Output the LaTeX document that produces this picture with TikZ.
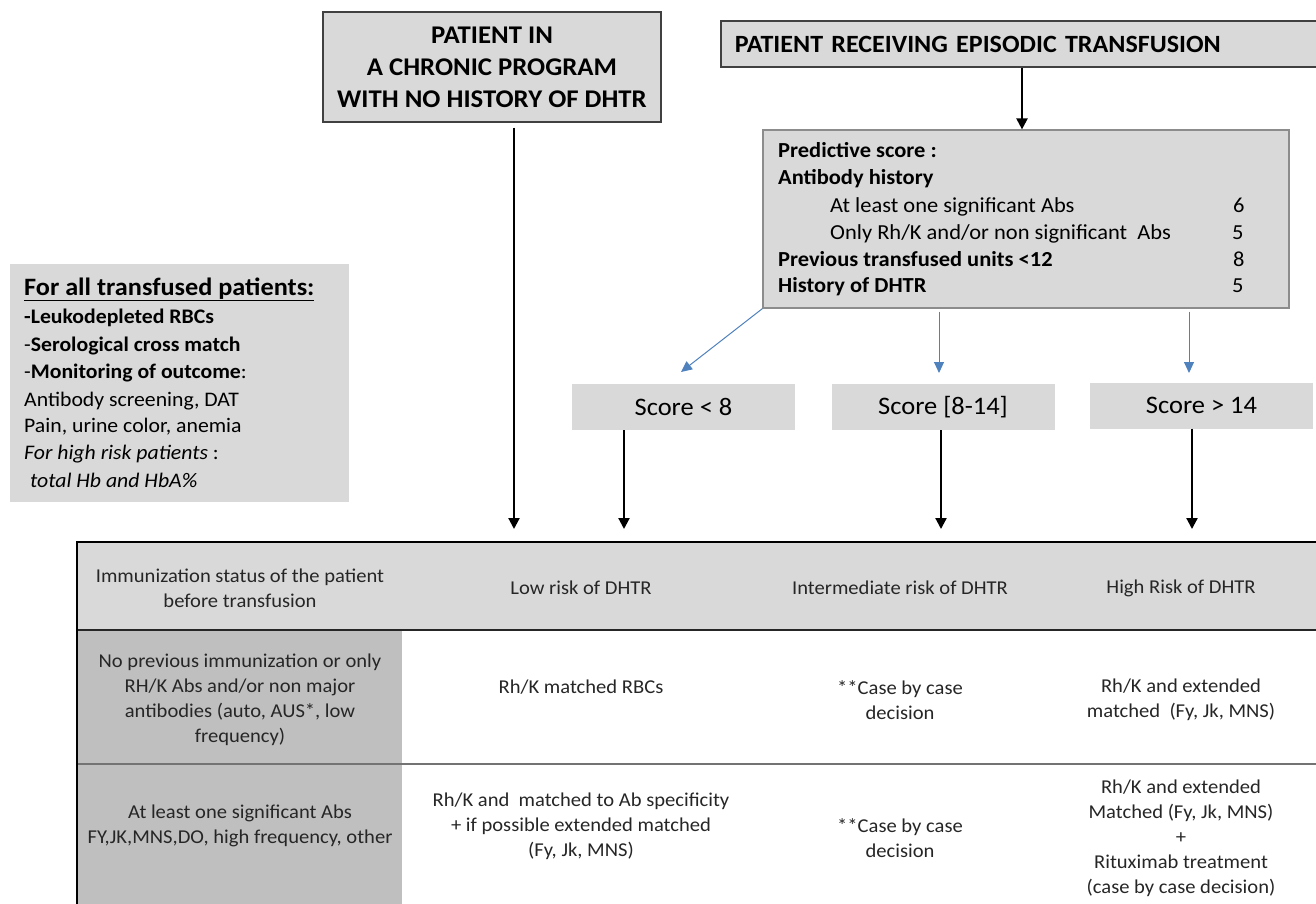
\documentclass[tikz,border=0pt]{standalone}
\usepackage{fontspec}
\setmainfont{Carlito}[FakeStretch=1.05]
\usetikzlibrary{positioning, calc, arrows.meta}
\definecolor{boxgray}{HTML}{D9D9D9}
\definecolor{colgray}{HTML}{BFBFBF}
\definecolor{arrblue}{HTML}{4F81BD}
\definecolor{txt}{HTML}{262626}
\newcommand{\fs}[2]{\fontsize{#1}{#2}\selectfont}
\tikzset{
  titlebox/.style={draw=black!75, line width=1.5pt, fill=boxgray, font=\fs{25.5}{32}\bfseries, align=center, inner sep=0pt},
  scorebox/.style={fill=boxgray, minimum width=223pt, minimum height=46pt, font=\fs{25.2}{30}, inner sep=0pt},
  arr/.style={line width=2.2pt, -{Triangle[length=11pt,width=11pt]}},
  barr/.style={arrblue, line width=1pt, -{Triangle[length=11pt,width=10pt]}},
  cell/.style={font=\fs{19.6}{25}, align=center, text=txt, inner sep=0pt},
  ptext/.style={anchor=base west, font=\fs{21.4}{25}, inner sep=0pt},
  pbold/.style={ptext, font=\fs{21.4}{25}\bfseries},
  ltext/.style={anchor=base west, font=\fs{20.7}{25}, inner sep=0pt}
}
\begin{document}
\begin{tikzpicture}[x=1pt, y=-1pt]
        \useasboundingbox (0,0) rectangle (1316,904);
        \clip (0,0) rectangle (1316,904);
        %riquadri in alto
        \node[titlebox, minimum width=338pt, minimum height=110pt] (chronic) at (492,67) {PATIENT IN\\A CHRONIC PROGRAM\\WITH NO HISTORY OF DHTR};
        \node[titlebox, font=\fs{24.8}{32}\bfseries, anchor=west, minimum height=46pt, text width=590pt, align=left, inner xsep=14pt] (episodic) at (720,44) {PATIENT RECEIVING EPISODIC TRANSFUSION};
        %punteggio predittivo
        \node[draw=black!45, line width=1.2pt, fill=boxgray, minimum width=526pt, minimum height=178pt] (pred) at (1026,219) {};
        \node[pbold] (p1) at (778,158) {Predictive score :};
        \node[pbold] (p2) at (778,185) {Antibody history};
        \node[ptext] (p3) at (830,212) {At least one significant Abs};
        \node[ptext] (p4) at (830,239) {Only Rh/K and/or non significant\ \ Abs};
        \node[pbold] (p5) at (778,266) {Previous transfused units <12};
        \node[pbold] (p6) at (778,292) {History of DHTR};
        \node[ptext] (v1) at (1233,212) {6};
        \node[ptext] (v2) at (1232,239) {5};
        \node[ptext] (v3) at (1233,266) {8};
        \node[ptext] (v4) at (1232,292) {5};
        %classi di punteggio
        \node[scorebox] (s1) at (683.5,407) {Score < 8};
        \node[scorebox] (s2) at (943,407) {Score [8-14]};
        \node[scorebox] (s3) at (1201.5,405.5) {Score > 14};
        %per tutti i pazienti
        \node[fill=boxgray, minimum width=339pt, minimum height=238pt] (fa) at (179.5,383) {};
        \node[ltext, font=\fs{25}{28}\bfseries] (fa1) at (24,295) {\underline{For all transfused patients:}};
        \node[ltext] (fa2) at (24,323) {\textbf{-Leukodepleted RBCs}};
        \node[ltext] (fa3) at (24,351) {-\textbf{Serological cross match}};
        \node[ltext] (fa4) at (24,378) {-\textbf{Monitoring of outcome}:};
        \node[ltext] (fa5) at (24,406) {Antibody screening, DAT};
        \node[ltext] (fa6) at (24,432) {Pain, urine color, anemia};
        \node[ltext] (fa7) at (24,459) {\textit{For high risk patients} :};
        \node[ltext] (fa8) at (30,487) {\textit{total Hb and HbA\%}};
        %frecce
        \coordinate (e1) at (1022,0);
        \coordinate (t1) at (514,529);
        \coordinate (t2) at (624,529);
        \coordinate (t3) at (941,529);
        \coordinate (t4) at (1192,529);
        \coordinate (b1) at (681,372);
        \coordinate (b2) at (939,373);
        \coordinate (b3) at (1189,373);
        \draw[arr] (episodic.south -| e1) -- (pred.north -| e1);
        \draw[arr, shorten <=5pt] (chronic.south -| t1) -- (t1);
        \draw[arr] (s1.south -| t2) -- (t2);
        \draw[arr] (s2.south -| t3) -- (t3);
        \draw[arr] (s3.south -| t4) -- (t4);
        \draw[barr] (pred.south west) -- (b1);
        \draw[barr, shorten <=3pt] (pred.south -| b2) -- (b2);
        \draw[barr, shorten <=3pt] (pred.south -| b3) -- (b3);
        %tabella
        \fill[boxgray] (77,542) rectangle (1320,630);
        \fill[colgray] (77,630) rectangle (402,910);
        \draw[black!55, line width=1.5pt] (77,764) -- (1320,764);
        \draw[black!85, line width=2pt] (77,630) -- (1320,630);
        \draw[black, line width=2.2pt] (1320,542) -- (77,542) -- (77,910);
        \node[cell] (h1) at (240,588) {Immunization status of the patient\\before transfusion};
        \node[cell] (h2) at (581,588) {Low risk of DHTR};
        \node[cell] (h3) at (900,588) {Intermediate risk of DHTR};
        \node[cell] (h4) at (1181,588) {High Risk of DHTR};
        \node[cell] (r21) at (240,700) {No previous immunization or only\\RH/K Abs and/or non major\\antibodies (auto, AUS*, low\\frequency)};
        \node[cell] (r22) at (581,687) {Rh/K matched RBCs};
        \node[cell] (r23) at (900,700) {**Case by case\\decision};
        \node[cell] (r24) at (1181,700) {Rh/K and extended\\matched\ \ (Fy, Jk, MNS)};
        \node[cell] (r31) at (240,826) {At least one significant Abs\\FY,JK,MNS,DO, high frequency, other};
        \node[cell] (r32) at (581,826) {Rh/K and\ \ matched to Ab specificity\\+ if possible extended matched\\(Fy, Jk, MNS)};
        \node[cell] (r33) at (900,838) {**Case by case\\decision};
        \node[cell] (r34) at (1181,838) {Rh/K and extended\\Matched (Fy, Jk, MNS)\\+\\Rituximab treatment\\(case by case decision)};
\end{tikzpicture}
\end{document}
